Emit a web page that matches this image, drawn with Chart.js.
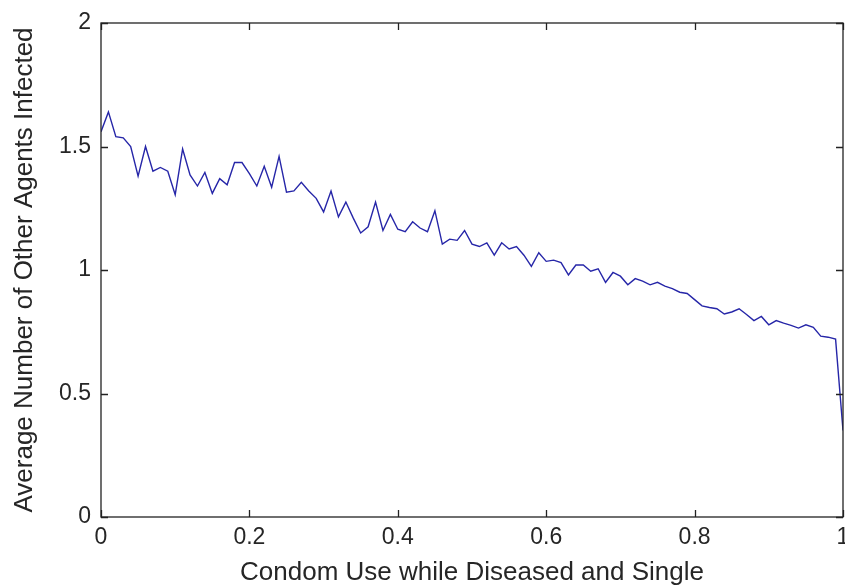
<!DOCTYPE html>
<html>
<head>
<meta charset="utf-8">
<script src="https://cdn.jsdelivr.net/npm/chart.js@4/dist/chart.umd.min.js"></script>
<style>
  html, body { margin: 0; padding: 0; background: #fff; }
  canvas { display: block; }
</style>
</head>
<body>
<canvas id="graph" width="845" height="587"></canvas>
<script>
// condom use level (x) and average infected (y)
var condomUse = [
    0.00, 0.01, 0.02, 0.03, 0.04, 0.05, 0.06, 0.07, 0.08, 0.09,
    0.10, 0.11, 0.12, 0.13, 0.14, 0.15, 0.16, 0.17, 0.18, 0.19,
    0.20, 0.21, 0.22, 0.23, 0.24, 0.25, 0.26, 0.27, 0.28, 0.29,
    0.30, 0.31, 0.32, 0.33, 0.34, 0.35, 0.36, 0.37, 0.38, 0.39,
    0.40, 0.41, 0.42, 0.43, 0.44, 0.45, 0.46, 0.47, 0.48, 0.49,
    0.50, 0.51, 0.52, 0.53, 0.54, 0.55, 0.56, 0.57, 0.58, 0.59,
    0.60, 0.61, 0.62, 0.63, 0.64, 0.65, 0.66, 0.67, 0.68, 0.69,
    0.70, 0.71, 0.72, 0.73, 0.74, 0.75, 0.76, 0.77, 0.78, 0.79,
    0.80, 0.81, 0.82, 0.83, 0.84, 0.85, 0.86, 0.87, 0.88, 0.89,
    0.90, 0.91, 0.92, 0.93, 0.94, 0.95, 0.96, 0.97, 0.98, 0.99,
    1.00
];
var avgInfected = [
    1.56, 1.64, 1.54, 1.535, 1.50, 1.38, 1.50, 1.40, 1.415, 1.40,
    1.305, 1.49, 1.385, 1.34, 1.395, 1.31, 1.37, 1.345, 1.435, 1.435,
    1.39, 1.34, 1.42, 1.335, 1.46, 1.315, 1.32, 1.355, 1.32, 1.29,
    1.235, 1.32, 1.215, 1.275, 1.21, 1.15, 1.175, 1.275, 1.16, 1.225,
    1.165, 1.155, 1.195, 1.17, 1.155, 1.24, 1.105, 1.125, 1.12, 1.16,
    1.105, 1.095, 1.11, 1.06, 1.11, 1.085, 1.095, 1.06, 1.015, 1.07,
    1.035, 1.04, 1.03, 0.98, 1.02, 1.02, 0.995, 1.005, 0.95, 0.99,
    0.975, 0.94, 0.965, 0.955, 0.94, 0.95, 0.935, 0.925, 0.91, 0.905,
    0.88, 0.855, 0.848, 0.843, 0.822, 0.83, 0.843, 0.82, 0.795, 0.812,
    0.778, 0.795, 0.785, 0.776, 0.765, 0.778, 0.768, 0.732, 0.728, 0.72,
    0.35
];
var xTickValues = [0, 0.2, 0.4, 0.6, 0.8, 1];
var xTickLabels = ['0', '0.2', '0.4', '0.6', '0.8', '1'];
var yTickValues = [0, 0.5, 1, 1.5, 2];
var yTickLabels = ['0', '0.5', '1', '1.5', '2'];

var points = condomUse.map(function (x, i) { return { x: x, y: avgInfected[i] }; });

// matlab style box with inward ticks on all four sides
var boxPlugin = {
    id: 'boxTicks',
    afterDraw: function (chart) {
        var c = chart.ctx, a = chart.chartArea;
        var xs = chart.scales.x, ys = chart.scales.y;
        var len = 7;
        c.save();
        c.strokeStyle = '#222';
        c.lineWidth = 1.3;
        c.strokeRect(a.left, a.top, a.right - a.left, a.bottom - a.top);
        c.beginPath();
        xTickValues.forEach(function (v) {
            var px = Math.round(xs.getPixelForValue(v)) + 0.5;
            c.moveTo(px, a.bottom); c.lineTo(px, a.bottom - len);
            c.moveTo(px, a.top); c.lineTo(px, a.top + len);
        });
        yTickValues.forEach(function (v) {
            var py = Math.round(ys.getPixelForValue(v)) + 0.5;
            c.moveTo(a.left, py); c.lineTo(a.left + len, py);
            c.moveTo(a.right, py); c.lineTo(a.right - len, py);
        });
        c.stroke();
        c.restore();
    }
};

var font = "'Liberation Sans', Arial, sans-serif";
var ctx = document.getElementById('graph');
var graph = new Chart(ctx, {
    type: 'line',
    data: {
        datasets: [{
            data: points,
            borderColor: '#2626a8',
            borderWidth: 1.4,
            pointRadius: 0,
            tension: 0,
            fill: false
        }]
    },
    options: {
        responsive: false,
        devicePixelRatio: 1,
        animation: false,
        layout: { padding: { top: 23, right: 2, left: 0, bottom: 0 } },
        plugins: { legend: { display: false }, tooltip: { enabled: false } },
        scales: {
            x: {
                type: 'linear',
                min: 0,
                max: 1,
                afterBuildTicks: function (s) { s.ticks = xTickValues.map(function (v) { return { value: v }; }); },
                afterFit: function (s) { s.height = 70; s.paddingLeft = 0; s.paddingRight = 0; },
                grid: { display: false, drawTicks: false },
                border: { display: false },
                ticks: {
                    padding: 7,
                    maxRotation: 0,
                    autoSkip: false,
                    color: '#262626',
                    font: { family: font, size: 23 },
                    callback: function (v) { var i = xTickValues.indexOf(v); return i < 0 ? '' : xTickLabels[i]; }
                },
                title: {
                    display: true,
                    text: 'Condom Use while Diseased and Single',
                    color: '#262626',
                    font: { family: font, size: 26, lineHeight: 1 },
                    padding: { top: 0, bottom: 1 }
                }
            },
            y: {
                min: 0,
                max: 2,
                afterBuildTicks: function (s) { s.ticks = yTickValues.map(function (v) { return { value: v }; }); },
                afterFit: function (s) { s.width = 101; s.paddingTop = 0; s.paddingBottom = 0; },
                grid: { display: false, drawTicks: false },
                border: { display: false },
                ticks: {
                    padding: 10,
                    autoSkip: false,
                    color: '#262626',
                    font: { family: font, size: 23 },
                    callback: function (v) { var i = yTickValues.indexOf(v); return i < 0 ? '' : yTickLabels[i]; }
                },
                title: {
                    display: true,
                    text: 'Average Number of Other Agents Infected',
                    color: '#262626',
                    font: { family: font, size: 26, lineHeight: 1 },
                    padding: { top: 12, bottom: 0 }
                }
            }
        }
    },
    plugins: [boxPlugin]
});
</script>
</body>
</html>
